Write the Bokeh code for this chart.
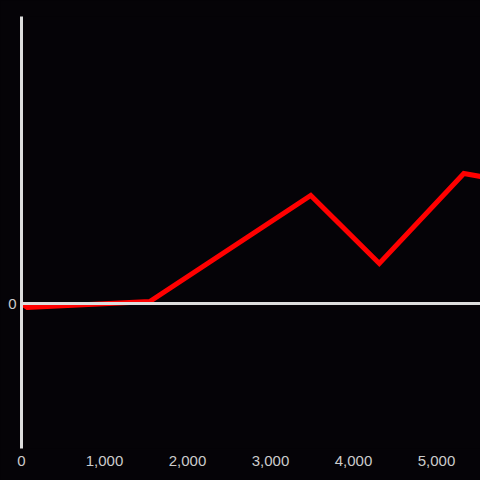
from bokeh.plotting import figure
from bokeh.models import Range1d, FixedTicker, NumeralTickFormatter, Span, GlobalInlineStyleSheet
from bokeh.embed import file_html
from bokeh.resources import INLINE

# data
x_vals = [0, 70, 1545, 3485, 4311, 5329, 5530]
y_vals = [0, -4, 2, 108, 40, 130, 127]
x_ticks = [0, 1000, 2000, 3000, 4000, 5000]
y_ticks = [0]

bg = "#050307"
axis_col = "#dddddd"
label_col = "#cccccc"

p = figure(width=480, height=480, output_backend="svg", toolbar_location=None,
           x_range=Range1d(0, 5530), y_range=Range1d(-145, 287),
           background_fill_color=bg, border_fill_color=bg, outline_line_color=None,
           min_border_left=21, min_border_top=16, min_border_right=0, min_border_bottom=32)

p.stylesheets = [GlobalInlineStyleSheet(css="html, body { margin: 0; padding: 0; background: #050307; overflow: hidden; }")]

p.grid.visible = False

p.xaxis.ticker = FixedTicker(ticks=x_ticks)
p.xaxis.formatter = NumeralTickFormatter(format="0,0")
p.xaxis.axis_line_color = None
p.xaxis.major_tick_line_color = None
p.xaxis.major_tick_out = 0
p.xaxis.minor_tick_line_color = None
p.xaxis.minor_tick_out = 0
p.xaxis.major_label_text_color = label_col
p.xaxis.major_label_text_font = "Liberation Sans"
p.xaxis.major_label_text_font_size = "15px"
p.xaxis.major_label_standoff = 7

p.yaxis.ticker = FixedTicker(ticks=y_ticks)
p.yaxis.axis_line_color = axis_col
p.yaxis.axis_line_width = 3
p.yaxis.major_tick_line_color = None
p.yaxis.major_tick_out = 0
p.yaxis.minor_tick_line_color = None
p.yaxis.minor_tick_out = 0
p.yaxis.major_label_text_color = label_col
p.yaxis.major_label_text_font = "Liberation Sans"
p.yaxis.major_label_text_font_size = "15px"
p.yaxis.major_label_standoff = 5

p.add_layout(Span(location=0, dimension="width", line_color=axis_col, line_width=3))

p.line(x_vals, y_vals, line_color="#ff0000", line_width=5, line_join="miter")

open("out.html", "w").write(file_html(p, INLINE))
